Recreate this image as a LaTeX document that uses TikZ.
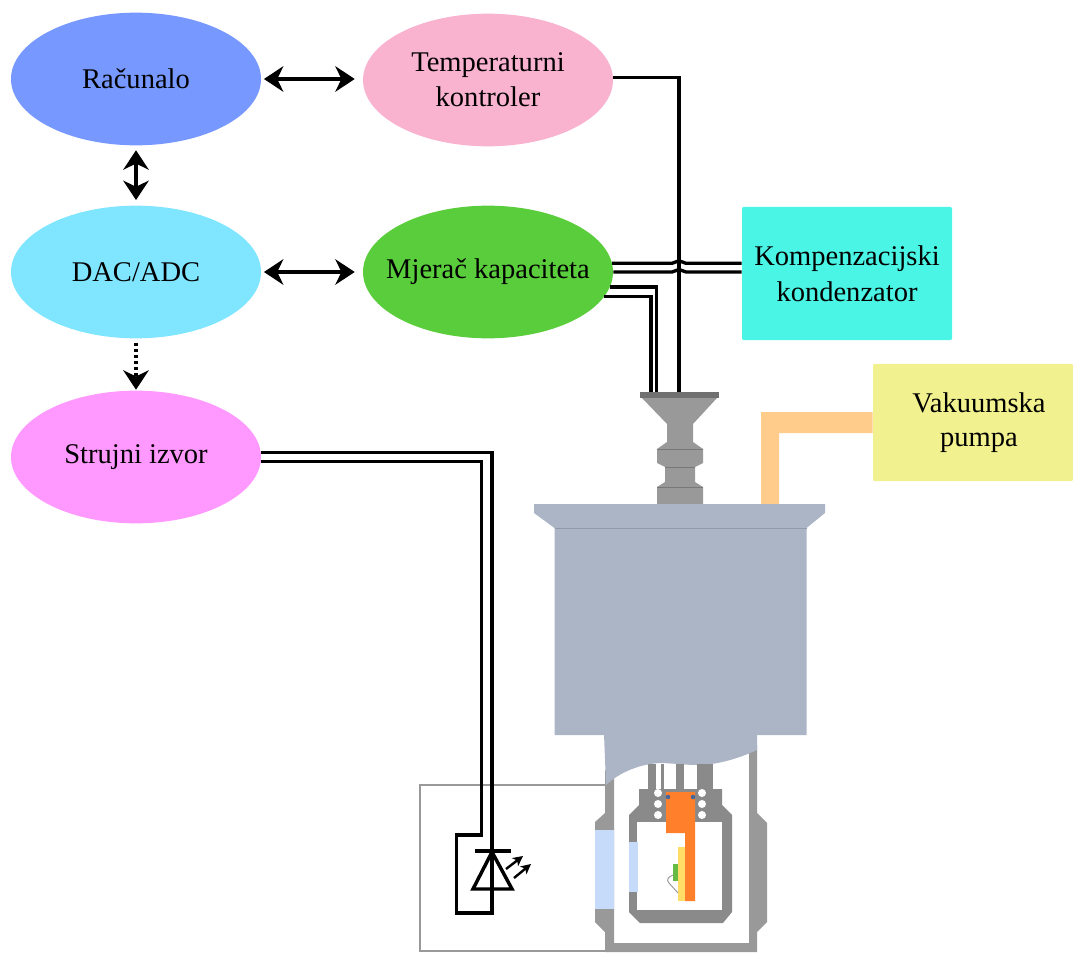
\documentclass[tikz,border=0pt]{standalone}
\usepackage{fontspec}
\setmainfont{Liberation Serif}
\usetikzlibrary{arrows.meta,shapes.geometric}
\definecolor{cRac}{HTML}{7799FF}
\definecolor{cTemp}{HTML}{F9B3CE}
\definecolor{cDac}{HTML}{80E5FF}
\definecolor{cMjer}{HTML}{5ACD3C}
\definecolor{cStr}{HTML}{FF99FF}
\definecolor{cKomp}{HTML}{4BF5E5}
\definecolor{cVak}{HTML}{F1F18F}
\definecolor{cPipe}{HTML}{FFCC8C}
\definecolor{cBody}{HTML}{ABB5C5}
\definecolor{cGray}{HTML}{999999}
\definecolor{cDark}{HTML}{8A8A8A}
\definecolor{cCap}{HTML}{707070}
\definecolor{cGlass}{HTML}{C6DAFA}
\definecolor{cOrange}{HTML}{FF7F2A}
\definecolor{cYellow}{HTML}{FFDD66}
\definecolor{cGreen}{HTML}{66BB44}
\definecolor{cDot}{HTML}{446699}
\tikzset{
  blob/.style={ellipse,minimum width=187.5pt,minimum height=99.5pt,inner sep=0pt,align=center,font=\fontsize{21.4}{27}\selectfont},
  panel/.style={rectangle,rounded corners=1.5pt,inner sep=0pt,align=center,font=\fontsize{21.4}{27}\selectfont},
  biarrow/.style={line width=2.7pt,{Stealth[length=14.5pt,width=19pt,inset=4.5pt]}-{Stealth[length=14.5pt,width=19pt,inset=4.5pt]}},
  dotarrow/.style={line width=2.6pt,dash pattern=on 2.4pt off 2.2pt,-{Stealth[length=14.5pt,width=19pt,inset=4.5pt,sep=0pt]}},
  wire/.style={line width=2.5pt,black,line join=miter},
  ledline/.style={line width=2.6pt,black,line join=miter},
  ledray/.style={line width=1.8pt,black,-{Stealth[length=7.5pt,width=7.5pt,inset=2pt]}},
  metal/.style={fill=cGray,draw=none},
  dark/.style={fill=cDark,draw=none},
  hole/.style={circle,fill=white,draw=none,minimum size=6pt,inner sep=0pt}
}
\begin{document}
\begin{tikzpicture}[x=0.75pt,y=-0.75pt]
\useasboundingbox (0,0) rectangle (1073,952);
% blocks
\node[blob,fill=cRac] (rac) at (136,79) {\raisebox{-1.8pt}{Računalo}};
\node[blob,fill=cTemp] (temp) at (488,80) {\raisebox{-1pt}{Temperaturni}\\kontroler};
\node[blob,fill=cDac] (dac) at (136,272) {\raisebox{-1.8pt}{DAC/ADC}};
\node[blob,fill=cMjer] (mjer) at (488,272) {\raisebox{-1.8pt}{\makebox[0pt]{Mjerač kapaciteta}}};
\node[blob,fill=cStr] (stru) at (136,457) {\raisebox{-2.2pt}{\makebox[0pt]{Strujni izvor}}};
\node[panel,fill=cKomp,minimum width=157.5pt,minimum height=100pt] (komp) at (847,273.5) {Kompenzacijski\\kondenzator};
\node[panel,fill=cVak,minimum width=150pt,minimum height=88pt,rounded corners=1pt] (vak) at (973,422.5) {\raisebox{-1pt}{\hspace*{9pt}Vakuumska}\\\hspace*{9pt}pumpa};
% arrows between blocks
\draw[biarrow,shorten <=2pt,shorten >=6pt] (rac.east) -- (rac.east -| temp.west);
\draw[biarrow,shorten <=2pt,shorten >=6pt] (dac.east) -- (mjer.west);
\draw[biarrow,shorten <=3.5pt,shorten >=4pt] (rac.south) -- (dac.north);
\draw[dotarrow,shorten <=3pt,shorten >=0.5pt] (dac.south) -- (stru.north);
% vacuum pipe
\fill[cPipe] (vak.west |- 0,412) -- (761,412) -- (761,504) -- (779,504) -- (779,433) -- (vak.west |- 0,433) -- cycle;
% frame
\draw[cGray,line width=1.6pt] (606,785) -- (420,785) -- (420,951) -- (606,951);
% feedthrough
\node[rectangle,fill=cCap,minimum width=59.5pt,minimum height=4.5pt,inner sep=0pt] (cap) at (679.5,395) {};
\fill[cGray] (642,398) -- (717,398) -- (693,424) -- (693,442) -- (703,449) -- (703,463) -- (695,467) -- (695,482) -- (703,487) -- (703,504) -- (657,504) -- (657,487) -- (665,482) -- (665,467) -- (657,463) -- (657,449) -- (667,442) -- (667,424) -- cycle;
\draw[cCap!80!cGray,line width=.5pt] (657,449) -- (703,449) (657,487) -- (703,487) (665,467) -- (695,467);
% chamber
\fill[cBody] (534,504) -- (825,504) -- (825,513) -- (806.5,528) -- (806.5,735) -- (554.5,735) -- (554.5,528) -- (534,513) -- cycle;
\draw[cBody!85!black,line width=.5pt] (554.5,528) -- (806.5,528);
% outer cryostat wall
\path[metal] (605,770) -- (614,770) -- (614,943) -- (749,943) -- (749,745) -- (757,745) -- (757,813) -- (767,823) -- (767,922) -- (757,932) -- (757,952) -- (605,952) -- (605,932) -- (595,922) -- (595,822) -- (605,813) -- cycle;
\fill[cGlass] (595,830) rectangle (614,909);
% tail of chamber
\fill[cBody] (604,734) -- (757,734) -- (757,750) .. controls (735,760) and (715,765) .. (697,765) .. controls (685,765) and (670,763) .. (660,763) .. controls (640,764) and (620,772) .. (606,785) -- cycle;
% inner rods
\fill[cDark] (648,764) rectangle (656,790);
\fill[cDark] (661,764) rectangle (663.5,790);
\fill[cDark] (676,764) rectangle (684,792);
\fill[cDark] (697,764) rectangle (713,790);
% inner can
\path[dark] (639,789) -- (722,789) -- (722,805) -- (732,815) -- (732,912) -- (723,923) -- (640,923) -- (629,912) -- (629,815) -- (639,805) -- cycle;
\fill[white] (637,822) rectangle (722,910);
\fill[cGlass] (629,842) rectangle (637.5,892);
\foreach \nm/\xx/\yy in {a/658/793,b/658/804,c/658/815,d/702/793,e/702/804,f/702/815}
  \node[hole] (h\nm) at (\xx,\yy) {};
% sample holder
\fill[cOrange] (666,792) -- (695,792) -- (695,901) -- (685,901) -- (685,833) -- (666,833) -- cycle;
\fill[cYellow] (678,847) rectangle (685,901);
\fill[cGreen] (673,864) rectangle (678,881);
\draw[cGray,line width=.7pt] (673,875) .. controls (668,877) and (666,880) .. (669,883) -- (678,893);
\fill[cDot] (668,797) circle (1.7pt) (693,797) circle (1.7pt);
% wires
\coordinate (tc) at (679,392);
\coordinate (m1) at (656.7,392);
\coordinate (m2) at (651,392);
\draw[wire] (temp.1.5) -| (tc);
\draw[wire] (mjer.4) -- (672,263.3) .. controls (675,263.3) and (676,260.8) .. (679,260.8) .. controls (682,260.8) and (683,263.3) .. (686,263.3) -- (komp.west |- 0,263.3);
\draw[wire] (mjer.0) -- (672,272) .. controls (675,272) and (676,269.5) .. (679,269.5) .. controls (682,269.5) and (683,272) .. (686,272) -- (komp.west |- 0,272);
\draw[wire] (mjer.-7) -| (m1);
\draw[wire] (mjer.-12) -| (m2);
% LED wires
\coordinate (ledtop) at (492,913);
\coordinate (ledleft) at (481.7,835);
\draw[ledline] (stru.2) -| (ledtop) -- (456.7,913) -- (456.7,835) -- (ledleft) |- (stru.-2);
% LED
\coordinate (apex) at (492,852);
\coordinate (baseL) at (473,889);
\coordinate (baseR) at (512,889);
\coordinate (barL) at (475,851);
\coordinate (barR) at (511,851);
\draw[ledline] (apex) -- (baseR) -- (baseL) -- cycle;
\draw[ledline] (barL) -- (barR);
\coordinate (r1a) at (506,869);
\coordinate (r1b) at (523,856);
\coordinate (r2a) at (514,878);
\coordinate (r2b) at (531,864);
\draw[ledray] (r1a) -- (r1b);
\draw[ledray] (r2a) -- (r2b);
\end{tikzpicture}
\end{document}
